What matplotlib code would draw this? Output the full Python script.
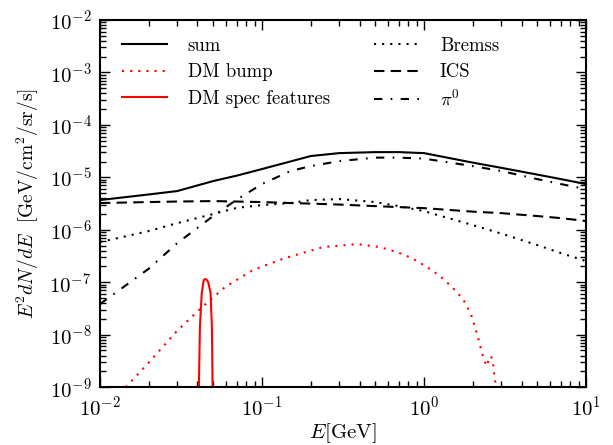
import matplotlib
matplotlib.use("Agg")
import matplotlib.pyplot as plt

plt.rcParams['font.family'] = 'serif'
plt.rcParams['font.serif'] = ['cmr10', 'DejaVu Serif']
plt.rcParams['mathtext.fontset'] = 'cm'
plt.rcParams['axes.formatter.use_mathtext'] = True

# energy grid for the background components [GeV]
E_grid = [0.01, 0.02, 0.03, 0.05, 0.07, 0.1, 0.15, 0.2, 0.3, 0.5, 0.7, 1, 2, 3, 5, 7, 10]

sum_flux = [3.69e-6, 4.72e-6, 5.48e-6, 8.5e-6, 1.08e-5, 1.44e-5, 2.01e-5, 2.55e-5,
            2.9e-5, 3.03e-5, 3.03e-5, 2.9e-5, 1.91e-5, 1.52e-5, 1.13e-5, 9.27e-6, 7.44e-6]
bremss = [5.83e-7, 9.46e-7, 1.34e-6, 2.0e-6, 2.62e-6, 2.96e-6, 3.24e-6, 3.69e-6,
          3.86e-6, 3.38e-6, 2.83e-6, 2.27e-6, 1.23e-6, 8.47e-7, 5.12e-7, 3.6e-7, 2.53e-7]
ics = [3.24e-6, 3.38e-6, 3.46e-6, 3.53e-6, 3.46e-6, 3.38e-6, 3.24e-6, 3.16e-6,
       3.03e-6, 2.83e-6, 2.71e-6, 2.59e-6, 2.22e-6, 2.08e-6, 1.83e-6, 1.67e-6, 1.47e-6]
pi0 = [3.83e-8, 1.81e-7, 5.58e-7, 1.83e-6, 3.77e-6, 7.45e-6, 1.32e-5, 1.64e-5,
       2.04e-5, 2.38e-5, 2.38e-5, 2.28e-5, 1.64e-5, 1.32e-5, 9.27e-6, 7.45e-6, 5.98e-6]

# DM bump
E_bump = [0.01445, 0.0204, 0.029, 0.0414, 0.0591, 0.088, 0.1386, 0.238, 0.386,
          0.535, 0.681, 0.843, 1.044, 1.256, 1.489, 1.742, 1.95, 2.154, 2.28,
          2.381, 2.449, 2.518, 2.593, 2.667, 2.704, 2.742, 2.82]
dm_bump = [1.0e-9, 3.13e-9, 1.07e-8, 3.08e-8, 8.08e-8, 1.71e-7, 2.89e-7, 4.68e-7,
           5.34e-7, 4.68e-7, 3.76e-7, 2.89e-7, 1.95e-7, 1.31e-7, 8.08e-8, 4.77e-8,
           2.47e-8, 8.99e-9, 4.46e-9, 3.0e-9, 2.52e-9, 3.58e-9, 3.9e-9, 2.87e-9,
           1.93e-9, 1.36e-9, 8.0e-10]

# DM spectral feature
E_spec = [0.0405, 0.0409, 0.0414, 0.0425, 0.0437, 0.0445, 0.0455, 0.0466,
          0.0482, 0.0491, 0.0495, 0.0499]
dm_spec = [1e-10, 1.5e-9, 1.4e-8, 6.2e-8, 1.1e-7, 1.15e-7, 1.13e-7, 1.0e-7,
           6.2e-8, 1.4e-8, 1.5e-9, 1e-10]

fig = plt.figure(figsize=(6.13, 4.45), dpi=100)
ax = fig.add_axes([0.163, 0.130, 0.793, 0.825])

lw = 1.5
ax.plot(E_grid, sum_flux, color='k', lw=lw, label='sum')
ax.plot(E_bump, dm_bump, color='r', lw=lw, linestyle=(0, (1, 2.9)), label='DM bump')
ax.plot(E_spec, dm_spec, color='r', lw=lw, label='DM spec features')
ax.plot(E_grid, bremss, color='k', lw=lw, linestyle=(0, (1, 2.9)), label='Bremss')
ax.plot(E_grid, ics, color='k', lw=lw, linestyle=(0, (5, 3)), label='ICS')
ax.plot(E_grid, pi0, color='k', lw=lw, linestyle=(0, (4, 4, 0.8, 4)), label=r'$\pi^0$')

ax.set_xscale('log')
ax.set_yscale('log')
ax.set_xlim(1e-2, 10)
ax.set_ylim(1e-9, 1e-2)

ax.set_xlabel(r'$E[\mathrm{GeV}]$', fontsize=15, labelpad=1)
ax.set_ylabel(r'$E^2dN/dE\ \ [\mathrm{GeV/cm^2/sr/s}]$', fontsize=14, labelpad=6)

for s in ax.spines.values():
    s.set_linewidth(1.5)
ax.tick_params(which='both', direction='in', top=True, right=True, labelsize=15)
ax.tick_params(which='major', length=7, width=1, pad=6)
ax.tick_params(which='minor', length=4, width=1)

ax.legend(ncol=2, frameon=False, fontsize=13.5, loc='upper left',
          handlelength=2.4, handletextpad=1.1, columnspacing=2.37,
          labelspacing=0.45, borderpad=0.4, bbox_to_anchor=(0.011, 1.0))

fig.savefig('out.png', dpi=100)
